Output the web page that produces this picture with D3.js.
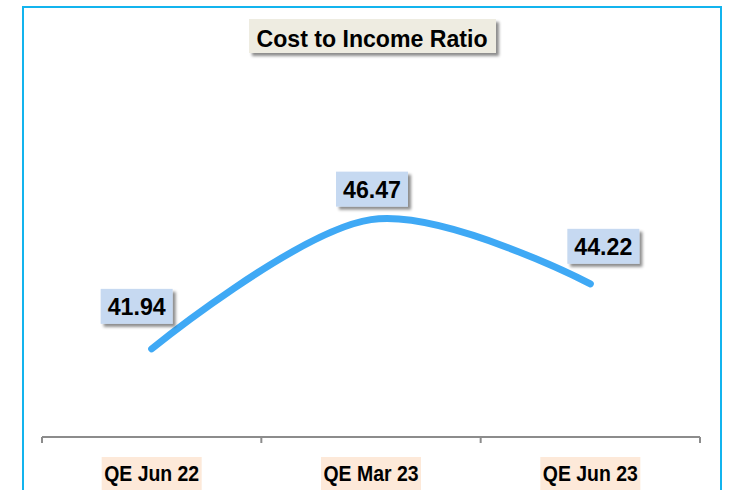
<!DOCTYPE html>
<html>
<head>
<meta charset="utf-8">
<script src="https://cdn.jsdelivr.net/npm/d3@7"></script>
<style>
  html, body { margin: 0; padding: 0; background: #fff; }
  svg { display: block; }
</style>
</head>
<body>
<div id="chart"></div>
<script>
(() => {
"use strict";

const WIDTH = 730, HEIGHT = 490;

// data
const categories = ["QE Jun 22", "QE Mar 23", "QE Jun 23"];
const ratios = [41.94, 46.47, 44.22];
const title = "Cost to Income Ratio";

// label nudges (Excel placed these by hand)
const labelDx = [-15, 1, 13];
const labelDy = [-43, -31, -38];

let svg = d3.select("#chart").append("svg")
  .attr("width", WIDTH)
  .attr("height", HEIGHT);

let defs = svg.append("defs");
let shadow = defs.append("filter")
  .attr("id", "shadow")
  .attr("x", "-20%").attr("y", "-20%")
  .attr("width", "150%").attr("height", "160%");
shadow.append("feDropShadow")
  .attr("dx", 3).attr("dy", 3)
  .attr("stdDeviation", 1.8)
  .attr("flood-color", "#000")
  .attr("flood-opacity", 0.45);

// outer frame
svg.append("rect")
  .attr("x", 23).attr("y", 7)
  .attr("width", 698).attr("height", 500)
  .attr("fill", "none")
  .attr("stroke", "#13b4ee")
  .attr("stroke-width", 2);

let xScale = d3.scaleBand()
  .domain(categories)
  .range([42, 700]);

let yScale = d3.scaleLinear()
  .domain([38.85, 48])
  .range([437, 176]);

let cx = d => xScale(d) + xScale.bandwidth() / 2;

// axis
const AXIS_Y = yScale(38.85);
svg.append("line")
  .attr("x1", xScale.range()[0]).attr("x2", xScale.range()[1])
  .attr("y1", AXIS_Y).attr("y2", AXIS_Y)
  .attr("stroke", "#8c8c8c")
  .attr("stroke-width", 2);

let tickPos = categories.map(d => xScale(d)).concat([xScale.range()[1]]);
svg.selectAll(".tick")
  .data(tickPos)
  .enter().append("line")
  .attr("x1", d => d).attr("x2", d => d)
  .attr("y1", AXIS_Y).attr("y2", AXIS_Y + 6)
  .attr("stroke", "#8c8c8c")
  .attr("stroke-width", 2);

// category labels
let cats = svg.selectAll(".cat")
  .data(categories)
  .enter().append("g")
  .attr("transform", d => `translate(${cx(d)},472)`);
cats.append("rect")
  .attr("x", -50).attr("y", -15)
  .attr("width", 100).attr("height", 33)
  .attr("fill", "#fde9d9");
cats.append("text")
  .attr("text-anchor", "middle")
  .attr("y", 9)
  .attr("font-family", "Liberation Sans, Arial, sans-serif")
  .attr("font-weight", "bold")
  .attr("font-size", 22)
  .attr("textLength", 95)
  .attr("lengthAdjust", "spacingAndGlyphs")
  .attr("fill", "#000")
  .text(d => d);

// line
let line = d3.line()
  .x((d, i) => cx(categories[i]))
  .y(d => yScale(d))
  .curve(d3.curveCardinal.tension(0));

svg.append("path")
  .datum(ratios)
  .attr("d", line)
  .attr("fill", "none")
  .attr("stroke", "#3fa9f5")
  .attr("stroke-width", 7)
  .attr("stroke-linecap", "round");

// data labels
let labels = svg.selectAll(".lbl")
  .data(ratios)
  .enter().append("g")
  .attr("transform", (d, i) =>
    `translate(${cx(categories[i]) + labelDx[i]},${yScale(d) + labelDy[i]})`);
labels.append("rect")
  .attr("x", -36).attr("y", -17)
  .attr("width", 72).attr("height", 35)
  .attr("fill", "#c6d9f1")
  .attr("filter", "url(#shadow)");
labels.append("text")
  .attr("text-anchor", "middle")
  .attr("y", 9)
  .attr("font-family", "Liberation Sans, Arial, sans-serif")
  .attr("font-weight", "bold")
  .attr("font-size", 24)
  .attr("textLength", 58)
  .attr("lengthAdjust", "spacingAndGlyphs")
  .attr("fill", "#000")
  .text(d => d.toFixed(2));

// title
let t = svg.append("g").attr("transform", "translate(372,36)");
t.append("rect")
  .attr("x", -123).attr("y", -17)
  .attr("width", 247).attr("height", 34)
  .attr("fill", "#eeece1")
  .attr("filter", "url(#shadow)");
t.append("text")
  .attr("text-anchor", "middle")
  .attr("y", 11)
  .attr("font-family", "Liberation Sans, Arial, sans-serif")
  .attr("font-weight", "bold")
  .attr("font-size", 24)
  .attr("textLength", 231)
  .attr("lengthAdjust", "spacingAndGlyphs")
  .attr("fill", "#000")
  .text(title);
})();
</script>
</body>
</html>
